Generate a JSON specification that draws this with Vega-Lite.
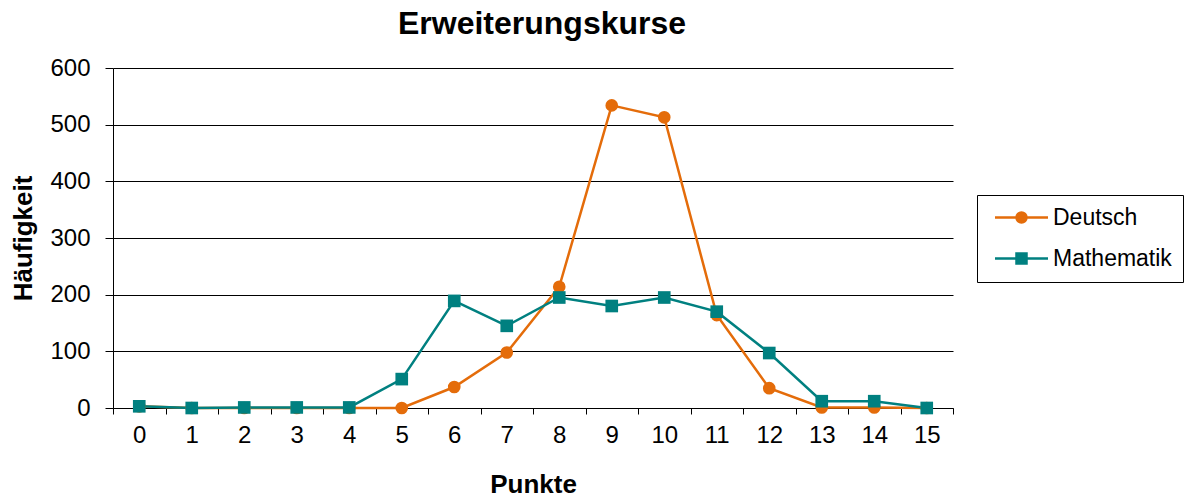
{
  "$schema": "https://vega.github.io/schema/vega-lite/v6.json",
  "width": 840,
  "height": 340,
  "autosize": {"type": "none"},
  "padding": {"left": 113, "top": 68, "right": 239, "bottom": 90},
  "background": "#ffffff",
  "title": {
    "text": "Erweiterungskurse",
    "font": "Liberation Sans",
    "fontSize": 32,
    "fontWeight": "bold",
    "color": "#000000",
    "anchor": "middle",
    "offset": 15,
    "dx": 9
  },
  "data": {
    "values": [
      {"p": 0, "s": "Deutsch", "v": 3},
      {"p": 1, "s": "Deutsch", "v": 0},
      {"p": 2, "s": "Deutsch", "v": 0},
      {"p": 3, "s": "Deutsch", "v": 0},
      {"p": 4, "s": "Deutsch", "v": 0},
      {"p": 5, "s": "Deutsch", "v": 0},
      {"p": 6, "s": "Deutsch", "v": 37},
      {"p": 7, "s": "Deutsch", "v": 98},
      {"p": 8, "s": "Deutsch", "v": 214},
      {"p": 9, "s": "Deutsch", "v": 534},
      {"p": 10, "s": "Deutsch", "v": 513},
      {"p": 11, "s": "Deutsch", "v": 164},
      {"p": 12, "s": "Deutsch", "v": 35},
      {"p": 13, "s": "Deutsch", "v": 1},
      {"p": 14, "s": "Deutsch", "v": 1},
      {"p": 15, "s": "Deutsch", "v": 0},
      {"p": 0, "s": "Mathematik", "v": 3},
      {"p": 1, "s": "Mathematik", "v": 0},
      {"p": 2, "s": "Mathematik", "v": 1},
      {"p": 3, "s": "Mathematik", "v": 1},
      {"p": 4, "s": "Mathematik", "v": 1},
      {"p": 5, "s": "Mathematik", "v": 51},
      {"p": 6, "s": "Mathematik", "v": 189},
      {"p": 7, "s": "Mathematik", "v": 145},
      {"p": 8, "s": "Mathematik", "v": 195},
      {"p": 9, "s": "Mathematik", "v": 180},
      {"p": 10, "s": "Mathematik", "v": 195},
      {"p": 11, "s": "Mathematik", "v": 170},
      {"p": 12, "s": "Mathematik", "v": 97},
      {"p": 13, "s": "Mathematik", "v": 12},
      {"p": 14, "s": "Mathematik", "v": 12},
      {"p": 15, "s": "Mathematik", "v": 0}
    ]
  },
  "encoding": {
    "x": {
      "field": "p",
      "type": "quantitative",
      "scale": {"domain": [-0.5, 15.5], "nice": false, "zero": false},
      "axis": {
        "title": "Punkte",
        "values": [-0.5, 0.5, 1.5, 2.5, 3.5, 4.5, 5.5, 6.5, 7.5, 8.5, 9.5, 10.5, 11.5, 12.5, 13.5, 14.5, 15.5],
        "labelExpr": "datum.value < 15 ? toString(datum.value + 0.5) : ''",
        "labelOffset": 26.25,
        "labelFlush": false,
        "labelOverlap": false,
        "labelBound": false,
        "grid": false,
        "tickSize": 6,
        "labelPadding": 9,
        "titlePadding": 24
      }
    },
    "y": {
      "field": "v",
      "type": "quantitative",
      "scale": {"domain": [0, 600], "nice": false},
      "axis": {
        "title": "Häufigkeit",
        "values": [0, 100, 200, 300, 400, 500, 600],
        "grid": true,
        "tickSize": 8,
        "labelPadding": 15,
        "titlePadding": 13
      }
    },
    "color": {
      "field": "s",
      "type": "nominal",
      "scale": {"domain": ["Deutsch", "Mathematik"], "range": ["#E46C0A", "#008080"]},
      "legend": {
        "orient": "none",
        "legendX": 864,
        "legendY": 127,
        "title": null,
        "strokeColor": "#000000",
        "padding": 11,
        "labelFont": "Liberation Sans",
        "labelFontSize": 23,
        "labelColor": "#000000",
        "symbolSize": 400,
        "symbolOffset": 22,
        "labelOffset": 20,
        "rowPadding": 17,
        "symbolStrokeWidth": 2.5,
        "encode": {
          "symbols": {
            "update": {
              "shape": {"signal": "datum.value === 'Deutsch' ? 'M-2.65,0L2.65,0M-0.5,0A0.5,0.5,0,1,0,0.5,0A0.5,0.5,0,1,0,-0.5,0Z' : 'M-2.65,0L2.65,0M-0.5,-0.5L0.5,-0.5L0.5,0.5L-0.5,0.5Z'"},
              "stroke": {"scale": "color", "field": "value"},
              "fill": {"scale": "color", "field": "value"},
              "strokeWidth": {"value": 2.5},
              "opacity": {"value": 1},
              "fillOpacity": {"value": 1},
              "strokeOpacity": {"value": 1}
            }
          }
        }
      }
    }
  },
  "layer": [
    {
      "mark": {"type": "line", "strokeWidth": 2.5}
    },
    {
      "transform": [{"filter": "datum.s === 'Deutsch'"}],
      "mark": {"type": "point", "filled": true, "size": 160, "opacity": 1, "shape": "circle"}
    },
    {
      "transform": [{"filter": "datum.s === 'Mathematik'"}],
      "mark": {"type": "point", "filled": true, "size": 160, "opacity": 1, "shape": "square"}
    }
  ],
  "config": {
    "view": {"stroke": null},
    "axis": {
      "domainColor": "#000000",
      "domainWidth": 1,
      "tickColor": "#000000",
      "tickWidth": 1,
      "gridColor": "#000000",
      "gridWidth": 1,
      "gridOpacity": 1,
      "labelColor": "#000000",
      "labelFont": "Liberation Sans",
      "labelFontSize": 24,
      "titleColor": "#000000",
      "titleFont": "Liberation Sans",
      "titleFontSize": 26,
      "titleFontWeight": "bold"
    }
  }
}
